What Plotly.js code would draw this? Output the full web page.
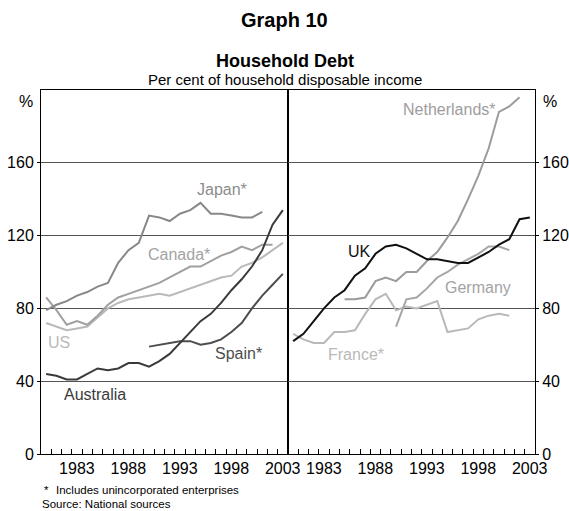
<!DOCTYPE html>
<html>
<head>
<meta charset="utf-8">
<script src="https://cdn.plot.ly/plotly-3.0.1.min.js"></script>
<style>
  html, body { margin: 0; padding: 0; background: #fff; }
  #chart { width: 569px; height: 511px; }
</style>
</head>
<body>
<div id="chart"></div>
<script>
// ---- Data (per cent of household disposable income), annual ----
const years = [1980,1981,1982,1983,1984,1985,1986,1987,1988,1989,1990,1991,1992,1993,1994,1995,1996,1997,1998,1999,2000,2001,2002,2003];
const tickYears = [1983,1988,1993,1998,2003];
const yTicks = [0,40,80,120,160];

// Left panel
const japan     = [79,82,84,87,89,92,94,105,112,116,131,130,128,132,134,138,132,132,131,130,130,133,null,null];
const canada    = [86,79,71,73,71,76,82,86,88,90,92,94,97,100,103,103,106,109,111,114,112,115,115,null];
const us        = [72,70,68,69,70,75,80,83,85,86,87,88,87,89,91,93,95,97,98,103,105,108,112,116];
const australia = [44,43,41,41,44,47,46,47,50,50,48,51,55,61,67,73,77,83,90,96,103,112,126,134];
const spain     = [null,null,null,null,null,null,null,null,null,null,59,60,61,62,62,60,61,63,67,72,80,87,93,99];

// Right panel
const uk          = [62,66,73,80,86,90,98,102,110,114,115,113,110,107,107,106,105,105,108,111,115,118,129,130];
const netherlands = [null,null,null,null,null,85,85,86,95,97,95,100,100,106,111,119,128,140,153,168,188,191,196,null];
const germany     = [null,null,null,null,null,null,null,null,null,null,70,85,86,91,97,100,104,107,110,114,114,112,null,null];
const france      = [66,63,61,61,67,67,68,77,85,88,79,81,80,82,84,67,68,69,74,76,77,76,null,null];

// Series labels: [text, year, value, colour]
const leftLabels = [
  ["Japan*", 1997.1, 145.5, "#8c8c8c"],
  ["Canada*", 1992.9, 109.6, "#a3a3a3"],
  ["US", 1981.2, 61, "#b9b9b9"],
  ["Australia", 1984.7, 32.6, "#3a3a3a"],
  ["Spain*", 1998.7, 55.2, "#4d4d4d"]
];
const rightLabels = [
  ["Netherlands*", 1995.2, 189.3, "#9d9d9d"],
  ["UK", 1986.4, 111, "#111111"],
  ["Germany", 1998.0, 91.3, "#a3a3a3"],
  ["France*", 1986.1, 54.6, "#b9b9b9"]
];

const FONT = "Arial, 'Liberation Sans', Helvetica, sans-serif";
const XRANGE = [1979.5, 2003.5];
const plotTop = 90, plotBottom = 454, H = 511, plotLeft = 41, plotRight = 535;

// Year-boundary tick positions; labels sit mid-year (shifted half a year)
const boundaryTicks = years.map(y => y - 0.5).concat([XRANGE[1]]);
const boundaryText = boundaryTicks.map(t => tickYears.includes(t + 0.5) ? String(t + 0.5) : '');
const halfYearPx = ((plotRight - plotLeft) / 2) / (XRANGE[1] - XRANGE[0]) / 2;

function line(y, color, xa, ya) {
  return {x: years, y: y, type: 'scatter', mode: 'lines', xaxis: xa, yaxis: ya,
          line: {color: color, width: 2}, hoverinfo: 'skip', connectgaps: false};
}

const data = [
  line(us, '#b9b9b9', 'x', 'y'),
  line(canada, '#a0a0a0', 'x', 'y'),
  line(japan, '#888888', 'x', 'y'),
  line(spain, '#4d4d4d', 'x', 'y'),
  line(australia, '#3a3a3a', 'x', 'y'),
  line(france, '#b9b9b9', 'x2', 'y2'),
  line(germany, '#a6a6a6', 'x2', 'y2'),
  line(netherlands, '#9b9b9b', 'x2', 'y2'),
  line(uk, '#111111', 'x2', 'y2')
];

function py(pixel) { return (plotBottom - pixel) / (plotBottom - plotTop); }

function xAxis(domain, anchor) {
  return {
    domain: domain, anchor: anchor, range: XRANGE,
    tickmode: 'array', tickvals: boundaryTicks, ticktext: boundaryText,
    ticklabelshift: 5,
    ticks: 'inside', ticklen: 5, tickwidth: 1, tickcolor: '#000',
    showgrid: false, zeroline: false,
    showline: true, linecolor: '#000', mirror: true,
    tickfont: {family: FONT, size: 16, color: '#000'}
  };
}
function yAxis(anchor, side) {
  return {
    anchor: anchor, side: side, range: [0, 200],
    tickmode: 'array', tickvals: yTicks, ticktext: yTicks.map(String),
    ticks: 'outside', ticklen: 3, tickcolor: '#000',
    showgrid: true, gridcolor: '#555',
    zeroline: false, showline: true, linecolor: '#000', mirror: true,
    tickfont: {family: FONT, size: 16, color: '#000'}
  };
}

const annotations = [];
leftLabels.forEach(l => annotations.push({xref: 'x', yref: 'y', x: l[1], y: l[2], text: l[0],
  showarrow: false, font: {family: FONT, size: 16, color: l[3]}, xanchor: 'center', yanchor: 'middle'}));
rightLabels.forEach(l => annotations.push({xref: 'x2', yref: 'y2', x: l[1], y: l[2], text: l[0],
  showarrow: false, font: {family: FONT, size: 16, color: l[3]}, xanchor: 'center', yanchor: 'middle'}));

// Titles
annotations.push({xref: 'paper', yref: 'paper', x: 0.493, y: py(20), text: '<b>Graph 10</b>',
  showarrow: false, font: {family: FONT, size: 20, color: '#000'}, xanchor: 'center', yanchor: 'middle'});
annotations.push({xref: 'paper', yref: 'paper', x: 0.493, y: py(61), text: '<b>Household Debt</b>',
  showarrow: false, font: {family: FONT, size: 18, color: '#000'}, xanchor: 'center', yanchor: 'middle'});
annotations.push({xref: 'paper', yref: 'paper', x: 0.493, y: py(79.5), text: 'Per cent of household disposable income',
  showarrow: false, font: {family: FONT, size: 15, color: '#000'}, xanchor: 'center', yanchor: 'middle'});
// % unit labels
annotations.push({xref: 'paper', yref: 'paper', x: -0.012, y: py(101), text: '%',
  showarrow: false, font: {family: FONT, size: 16, color: '#000'}, xanchor: 'right', yanchor: 'middle'});
annotations.push({xref: 'paper', yref: 'paper', x: 1.012, y: py(101), text: '%',
  showarrow: false, font: {family: FONT, size: 16, color: '#000'}, xanchor: 'left', yanchor: 'middle'});
// Footnotes
annotations.push({xref: 'paper', yref: 'paper', x: 0.002, y: py(490), text: '*',
  showarrow: false, font: {family: FONT, size: 11.5, color: '#000'}, xanchor: 'left', yanchor: 'middle'});
annotations.push({xref: 'paper', yref: 'paper', x: 0.026, y: py(490), text: 'Includes unincorporated enterprises',
  showarrow: false, font: {family: FONT, size: 11.5, color: '#000'}, xanchor: 'left', yanchor: 'middle'});
annotations.push({xref: 'paper', yref: 'paper', x: -0.002, y: py(503.5), text: 'Source: National sources',
  showarrow: false, font: {family: FONT, size: 11.5, color: '#000'}, xanchor: 'left', yanchor: 'middle'});

const layout = {
  width: 569, height: 511,
  margin: {l: plotLeft, r: 569 - plotRight, t: plotTop, b: H - plotBottom},
  showlegend: false,
  font: {family: FONT, size: 16, color: '#000'},
  xaxis: xAxis([0, 0.5], 'y'),
  xaxis2: xAxis([0.5, 1], 'y2'),
  yaxis: yAxis('x', 'left'),
  yaxis2: yAxis('x2', 'right'),
  annotations: annotations
};

Plotly.newPlot('chart', data, layout, {staticPlot: true}).then(function (gd) {
  // Fallback: if the year-boundary ticks did not render, draw them as tick-shaped markers
  const n = document.querySelectorAll('path.xtick.ticks, path.x2tick.ticks').length;
  if (n < 10) {
    const mk = (xa, ya) => ({x: boundaryTicks, y: boundaryTicks.map(() => 1.5), xaxis: xa, yaxis: ya,
      type: 'scatter', mode: 'markers', hoverinfo: 'skip',
      marker: {symbol: 'line-ns-open', size: 5, color: '#000', line: {color: '#000', width: 1}}});
    Plotly.addTraces(gd, [mk('x', 'y'), mk('x2', 'y2')]);
  }
});
</script>
</body>
</html>
